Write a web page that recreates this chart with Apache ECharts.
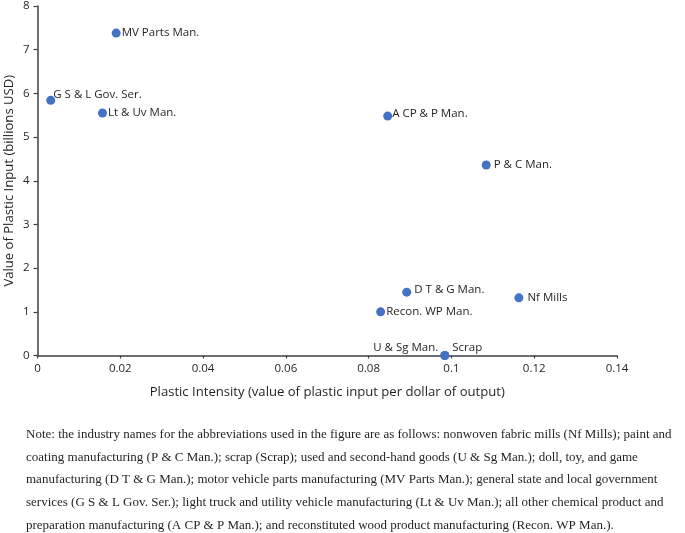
<!DOCTYPE html>
<html>
<head>
<meta charset="utf-8">
<script src="https://cdn.jsdelivr.net/npm/echarts@6/dist/echarts.min.js"></script>
<style>
html,body{margin:0;padding:0;background:#fff;}
#c{width:685px;height:533px;}
</style>
</head>
<body>
<div id="c"></div>
<script>
// ---- data ----
const industries = ["MV Parts Man.", "G S & L Gov. Ser.", "Lt & Uv Man.", "A CP & P Man.", "P & C Man.", "D T & G Man.", "Nf Mills", "Recon. WP Man.", "U & Sg Man.", "Scrap"];
const plasticIntensity = [0.0190, 0.0032, 0.0157, 0.0846, 0.1084, 0.0892, 0.1163, 0.0829, 0.0984, 0.0984];
const plasticInputBillions = [7.38, 5.84, 5.55, 5.48, 4.36, 1.45, 1.32, 1.00, 0.00, 0.00];
const xTicks = [0, 0.02, 0.04, 0.06, 0.08, 0.1, 0.12, 0.14];
const yTicks = [0, 1, 2, 3, 4, 5, 6, 7, 8];
const xTitle = "Plastic Intensity (value of plastic input per dollar of output)";
const yTitle = "Value of Plastic Input (billions USD)";
const noteLines = [
  "Note: the industry names for the abbreviations used in the figure are as follows: nonwoven fabric mills (Nf Mills); paint and",
  "coating manufacturing (P & C Man.); scrap (Scrap); used and second-hand goods (U & Sg Man.); doll, toy, and game",
  "manufacturing (D T & G Man.); motor vehicle parts manufacturing (MV Parts Man.); general state and local government",
  "services (G S & L Gov. Ser.); light truck and utility vehicle manufacturing (Lt & Uv Man.); all other chemical product and",
  "preparation manufacturing (A CP & P Man.); and reconstituted wood product manufacturing (Recon. WP Man.)."
];

// ---- label placement (style only) ----
const labelStyle = {
  "MV Parts Man.": {position: "right", distance: 1, offset: [0, 0]},
  "G S & L Gov. Ser.": {position: "right", distance: 1, offset: [-3, -6]},
  "Lt & Uv Man.": {position: "right", distance: 1, offset: [0, 0]},
  "A CP & P Man.": {position: "right", distance: 0, offset: [0, -2]},
  "P & C Man.": {position: "right", distance: 3, offset: [0, 0]},
  "D T & G Man.": {position: "right", distance: 3, offset: [0, -2]},
  "Nf Mills": {position: "right", distance: 4, offset: [0, 0]},
  "Recon. WP Man.": {position: "right", distance: 1, offset: [0, 0]},
  "U & Sg Man.": {position: "left", distance: 2, offset: [0, -8]},
  "Scrap": {position: "right", distance: 2, offset: [1, -8]}
};

const FONT = "'Open Sans', 'Noto Sans', sans-serif";
const AXC = "#3f3f3f";

const points = industries.map((n, i) => ({
  name: n,
  value: [plasticIntensity[i], plasticInputBillions[i]],
  label: Object.assign({show: true, formatter: n, color: "#231f20", fontFamily: FONT, fontSize: 11.5}, labelStyle[n])
}));

const chart = echarts.init(document.getElementById('c'), null, {renderer: 'canvas'});
chart.setOption({
  animation: false,
  backgroundColor: '#fff',
  grid: {left: 37.5, right: 68, top: 6, bottom: 177.5, containLabel: false, outerBoundsMode: 'none'},
  xAxis: {
    type: 'value', min: xTicks[0], max: xTicks[xTicks.length - 1], interval: 0.02,
    splitLine: {show: false},
    axisLine: {show: true, onZero: false, lineStyle: {color: AXC, width: 1.5}},
    axisTick: {show: true, length: 3, lineStyle: {color: AXC, width: 1.2}},
    axisLabel: {color: "#231f20", fontFamily: FONT, fontSize: 11.5, margin: 7,
      formatter: v => String(Math.round(v * 100) / 100)},
    name: xTitle, nameLocation: 'middle', nameGap: 30, nameMoveOverlap: false,
    nameTextStyle: {color: "#231f20", fontFamily: FONT, fontSize: 13.1}
  },
  yAxis: {
    type: 'value', min: yTicks[0], max: yTicks[yTicks.length - 1], interval: 1,
    splitLine: {show: false},
    axisLine: {show: true, onZero: false, lineStyle: {color: AXC, width: 1.5}},
    axisTick: {show: true, length: 4, lineStyle: {color: AXC, width: 1.2}},
    axisLabel: {color: "#231f20", fontFamily: FONT, fontSize: 11.5, margin: 8},
    name: yTitle, nameLocation: 'middle', nameGap: 22, nameRotate: 90, nameMoveOverlap: false,
    nameTextStyle: {color: "#231f20", fontFamily: FONT, fontSize: 13.1}
  },
  series: [{
    type: 'scatter',
    symbolSize: 9,
    itemStyle: {color: '#4472c4', opacity: 1},
    data: points
  }],
  graphic: [{
    type: 'text', left: 26, top: 423,
    style: {
      text: noteLines.join('\n'),
      fill: '#231f20',
      font: "13px 'Liberation Serif', 'Times New Roman', serif",
      lineHeight: 22.8
    }
  }]
});
</script>
</body>
</html>
